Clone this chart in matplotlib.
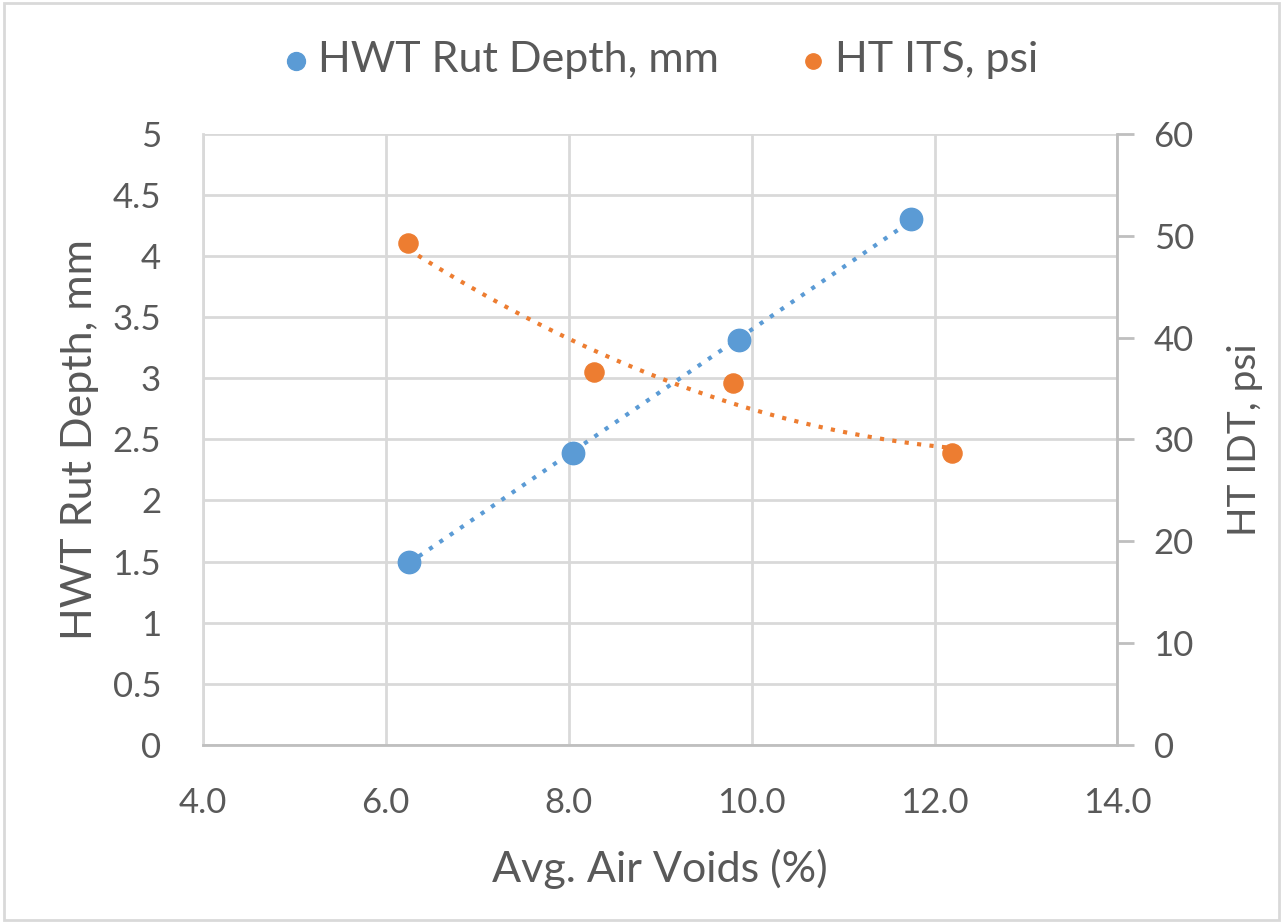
import matplotlib.pyplot as plt
import numpy as np

# air voids (%) and test results
rut_voids = [6.25, 8.05, 9.86, 11.74]
rut_depth = [1.50, 2.39, 3.31, 4.30]
its_voids = [6.24, 8.28, 9.80, 12.19]
its_psi = [49.3, 36.6, 35.5, 28.7]

blue = '#5b9bd5'
orange = '#ed7d31'
grey = '#595959'
grid_c = '#d9d9d9'

plt.rcParams['font.family'] = ['Lato', 'DejaVu Sans']

fig = plt.figure(figsize=(12.83, 9.23), dpi=100)
ax = fig.add_axes([0.158, 0.193, 0.713, 0.662])
ax2 = ax.twinx()

ax.set_xlim(4, 14)
ax.set_ylim(0, 5)
ax2.set_ylim(0, 60)
ax.set_xticks(np.arange(4, 14.1, 2))
ax.set_xticklabels(['%.1f' % v for v in np.arange(4, 14.1, 2)])
ax.set_yticks(np.arange(0, 5.01, 0.5))
ax.set_yticklabels(['%g' % v for v in np.arange(0, 5.01, 0.5)])
ax2.set_yticks(np.arange(0, 61, 10))

ax.grid(True, color=grid_c, lw=2)
ax.set_axisbelow(True)
for a in (ax, ax2):
    for s in a.spines.values():
        s.set_visible(False)
ax2.spines['right'].set_visible(True)
ax2.spines['right'].set_color('#bfbfbf')
ax2.spines['right'].set_linewidth(2)
ax.spines['bottom'].set_visible(True)
ax.spines['bottom'].set_color('#bfbfbf')
ax.spines['bottom'].set_linewidth(2)
ax.spines['left'].set_visible(True)
ax.spines['left'].set_color(grid_c)
ax.spines['left'].set_linewidth(2)

ax.tick_params(axis='x', length=0, labelsize=25, labelcolor=grey, pad=30)
ax.tick_params(axis='y', length=0, labelsize=25, labelcolor=grey, pad=30)
ax2.tick_params(axis='y', length=12, width=2, color='#bfbfbf', labelsize=25,
                labelcolor=grey, pad=14)

# trendlines
c1 = np.polyfit(rut_voids, rut_depth, 1)
xs1 = np.linspace(min(rut_voids), max(rut_voids), 100)
ax.plot(xs1, np.polyval(c1, xs1), ls=(0, (1, 2)), color=blue, lw=3)
c2 = np.polyfit(its_voids, its_psi, 2)
xs2 = np.linspace(min(its_voids), max(its_voids), 100)
ax2.plot(xs2, np.polyval(c2, xs2), ls=(0, (1, 2)), color=orange, lw=3)

h1 = ax.scatter(rut_voids, rut_depth, s=260, color=blue, zorder=5,
                label='HWT Rut Depth, mm')
h2 = ax2.scatter(its_voids, its_psi, s=190, color=orange, zorder=5,
                 label='HT ITS, psi')

ax.set_xlabel('Avg. Air Voids (%)', fontsize=31, color=grey, labelpad=22)
ax.set_ylabel('HWT Rut Depth, mm', fontsize=31, color=grey, labelpad=10)
ax2.set_ylabel('HT IDT, psi', fontsize=28, color=grey, labelpad=24)

fig.legend(handles=[h1, h2], loc='center', bbox_to_anchor=(0.51, 0.935), ncol=2,
           frameon=False, fontsize=31, labelcolor=grey, handletextpad=-0.1,
           handlelength=1.2, columnspacing=1.6, markerscale=0.8)

fig.patches.append(plt.Rectangle((0.003, 0.003), 0.994, 0.994, transform=fig.transFigure,
                                 fill=False, edgecolor='#d9d9d9', lw=2))

fig.savefig('out.png', dpi=100)
